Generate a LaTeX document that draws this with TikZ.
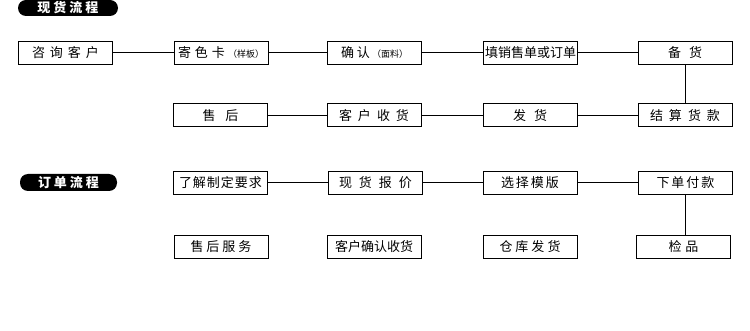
\documentclass[tikz,border=0pt]{standalone}
\usepackage{fontspec}
\newfontfamily\cjk{Noto Sans CJK SC}
\makeatletter
\newcommand\spaced[2]{\def\gapamt{#1}\spacedloop#2\relax}
\def\spacedloop#1#2{#1\ifx#2\relax\else\hspace{\gapamt}\expandafter\spacedloop\expandafter#2\fi}
\makeatother
\tikzset{
  box/.style={draw=black, line width=1pt, minimum width=94pt, minimum height=23pt, inner sep=0pt, font=\cjk\fontsize{13}{14}\selectfont},
  pill/.style={fill=black, rounded corners=8pt, minimum width=100pt, minimum height=16pt, inner sep=0pt, text=white, font=\cjk\bfseries\fontsize{13}{14}\selectfont},
  link/.style={line width=1pt, black}
}
\newcommand\sm[1]{{\fontsize{9}{10}\selectfont #1}}
\begin{document}
\begin{tikzpicture}[x=1pt,y=-1pt]
\useasboundingbox (0,0) rectangle (750,331);
% section labels
\node[pill] (p1) at (68,8) {\spaced{3pt}{现货流程}};
\node[pill, minimum width=97pt, minimum height=17pt] (p2) at (68.5,182.5) {\spaced{3pt}{订单流程}};
% row 1
\node[box] (a1) at (65.5,53) {\spaced{5pt}{咨询客户}};
\node[box] (a2) at (221,53) {\spaced{4pt}{寄色卡}\hspace{3pt}\sm{（样板）}};
\node[box] (a3) at (374.5,53) {\spaced{3pt}{确认}\hspace{2pt}\sm{（面料）}};
\node[box] (a4) at (530.5,53) {\spaced{0pt}{填销售单或订单}};
\node[box] (a5) at (685,53) {\spaced{8pt}{备货}};
% row 2
\node[box] (b1) at (220.5,115.5) {\spaced{10pt}{售后}};
\node[box] (b2) at (374,115.5) {\spaced{6pt}{客户收货}};
\node[box] (b3) at (530,115.5) {\spaced{8pt}{发货}};
\node[box] (b4) at (685,115.5) {\spaced{6pt}{结算货款}};
% row 3
\node[box] (c1) at (220.5,183) {\spaced{1pt}{了解制定要求}};
\node[box] (c2) at (375.5,183) {\spaced{7pt}{现货报价}};
\node[box] (c3) at (530,183) {\spaced{2pt}{选择模版}};
\node[box] (c4) at (685.5,183) {\spaced{2pt}{下单付款}};
% row 4
\node[box] (d1) at (221,247) {\spaced{3pt}{售后服务}};
\node[box] (d2) at (374,247) {\spaced{0pt}{客户确认收货}};
\node[box] (d3) at (530,247) {\spaced{3pt}{仓库发货}};
\node[box] (d4) at (683.5,247) {\spaced{4pt}{检品}};
% connectors
\draw[link] (a1) -- (a2);
\draw[link] (a2) -- (a3);
\draw[link] (a3) -- (a4);
\draw[link] (a4) -- (a5);
\draw[link] (a5) -- (b4);
\draw[link] (b1) -- (b2);
\draw[link] (b2) -- (b3);
\draw[link] (b3) -- (b4);
\draw[link] (c1) -- (c2);
\draw[link] (c2) -- (c3);
\draw[link] (c3) -- (c4);
\draw[link] (c4.south) -- (c4.south |- d4.north);
\end{tikzpicture}
\end{document}
